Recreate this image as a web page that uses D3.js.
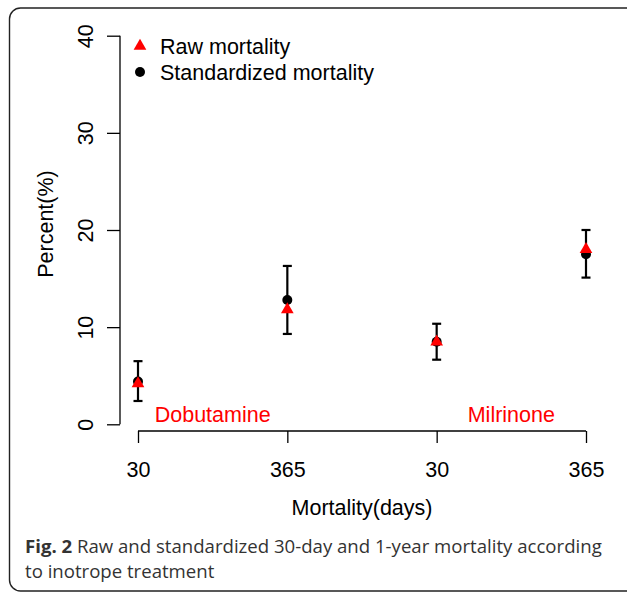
<!DOCTYPE html>
<html>
<head>
<meta charset="utf-8">
<script src="https://cdnjs.cloudflare.com/ajax/libs/d3/7.8.5/d3.min.js"></script>
<style>
  body { margin: 0; background: #fff; }
  svg text { font-family: "Liberation Sans", Arial, sans-serif; }
  .caption { font-family: "Open Sans", sans-serif; fill: #333; }
</style>
</head>
<body>
<svg class="chart"></svg>
<script>
var tickLabels = ["30", "365", "30", "365"];
var groups = ["Dobutamine", "Milrinone"];
var groupPos = [1.5, 3.5];
var rawMortality = [4.2, 11.8, 8.5, 18.0];
var stdMortality = [4.4, 12.8, 8.5, 17.5];
var ciLow = [2.4, 9.3, 6.65, 15.1];
var ciHigh = [6.5, 16.3, 10.35, 20.0];
var yTicks = [0, 10, 20, 30, 40];

var width = 627, height = 592;
var fs = 21.5;
var svg = d3.select(".chart").attr("width", width).attr("height", height);

// frame
svg.append("rect")
   .attr("x", 9.5).attr("y", 8)
   .attr("width", 640).attr("height", 583)
   .attr("rx", 11)
   .attr("fill", "none")
   .attr("stroke", "#222")
   .attr("stroke-width", 1.4);

var x = d3.scaleLinear().domain([1, 4]).range([138, 586]);
var y = d3.scaleLinear().domain([0, 40]).range([424.3, 35.7]);

// y axis
var yAxis = svg.append("g")
   .attr("transform", "translate(120,0)")
   .call(d3.axisLeft(y).tickValues(yTicks).tickSize(13));
yAxis.select(".domain").attr("d", "M0," + y(0) + "V" + y(40)).attr("stroke-width", 1.3);
yAxis.selectAll(".tick line").attr("stroke-width", 1.3);
yAxis.selectAll(".tick text")
   .attr("font-size", fs)
   .attr("fill", "#000")
   .attr("text-anchor", "middle")
   .attr("dy", 0)
   .attr("x", 0)
   .attr("transform", "translate(-27,0) rotate(-90)");

// x axis
var xAxis = svg.append("g")
   .attr("transform", "translate(0,431)")
   .call(d3.axisBottom(x).tickValues([1, 2, 3, 4])
           .tickFormat(function(d, i) { return tickLabels[i]; })
           .tickSize(12));
xAxis.select(".domain").attr("d", "M" + x(1) + ",0H" + x(4)).attr("stroke-width", 1.3);
xAxis.selectAll(".tick line").attr("stroke-width", 1.3);
xAxis.selectAll(".tick text")
   .attr("font-size", fs)
   .attr("fill", "#000")
   .attr("dy", 0)
   .attr("y", 46);

// axis titles
svg.append("text")
   .attr("transform", "translate(53,224) rotate(-90)")
   .attr("text-anchor", "middle")
   .attr("font-size", fs)
   .text("Percent(%)");

svg.append("text")
   .attr("x", 362).attr("y", 515)
   .attr("text-anchor", "middle")
   .attr("font-size", fs)
   .text("Mortality(days)");

// group labels
svg.selectAll(".group")
   .data(groups)
   .enter().append("text")
   .attr("class", "group")
   .attr("x", function(d, i) { return x(groupPos[i]); })
   .attr("y", y(1) + 7.5)
   .attr("text-anchor", "middle")
   .attr("font-size", fs)
   .attr("fill", "#ff0000")
   .text(function(d) { return d; });

// error bars
var idx = d3.range(tickLabels.length);
var bars = svg.append("g").attr("stroke", "#000").attr("stroke-width", 2.2);
bars.selectAll(".stem").data(idx).enter().append("line")
   .attr("x1", function(i) { return x(i + 1); })
   .attr("x2", function(i) { return x(i + 1); })
   .attr("y1", function(i) { return y(ciLow[i]); })
   .attr("y2", function(i) { return y(ciHigh[i]); });
bars.selectAll(".capLo").data(idx).enter().append("line")
   .attr("x1", function(i) { return x(i + 1) - 4.5; })
   .attr("x2", function(i) { return x(i + 1) + 4.5; })
   .attr("y1", function(i) { return y(ciLow[i]); })
   .attr("y2", function(i) { return y(ciLow[i]); });
bars.selectAll(".capHi").data(idx).enter().append("line")
   .attr("x1", function(i) { return x(i + 1) - 4.5; })
   .attr("x2", function(i) { return x(i + 1) + 4.5; })
   .attr("y1", function(i) { return y(ciHigh[i]); })
   .attr("y2", function(i) { return y(ciHigh[i]); });

var tri = d3.symbol().type(d3.symbolTriangle).size(70);

// standardized points
svg.selectAll(".std").data(idx).enter().append("circle")
   .attr("cx", function(i) { return x(i + 1); })
   .attr("cy", function(i) { return y(stdMortality[i]); })
   .attr("r", 5)
   .attr("fill", "#000");

// raw points
svg.selectAll(".raw").data(idx).enter().append("path")
   .attr("d", tri)
   .attr("transform", function(i) { return "translate(" + x(i + 1) + "," + y(rawMortality[i]) + ")"; })
   .attr("fill", "#ff0000");

// legend
var legend = svg.append("g");
legend.append("path").attr("d", tri).attr("transform", "translate(140,46)").attr("fill", "#ff0000");
legend.append("circle").attr("cx", 140).attr("cy", 72).attr("r", 5).attr("fill", "#000");
legend.append("text").attr("x", 160).attr("y", 53.5).attr("font-size", fs).text("Raw mortality");
legend.append("text").attr("x", 160).attr("y", 79.5).attr("font-size", fs).text("Standardized mortality");

// caption
var cap = svg.append("text").attr("class", "caption").attr("x", 25).attr("y", 553).attr("font-size", 18.6);
cap.append("tspan").attr("font-weight", "bold").text("Fig. 2");
cap.append("tspan").text(" Raw and standardized 30-day and 1-year mortality according");
svg.append("text").attr("class", "caption").attr("x", 25).attr("y", 578).attr("font-size", 18.6)
   .text("to inotrope treatment");
</script>
</body>
</html>
